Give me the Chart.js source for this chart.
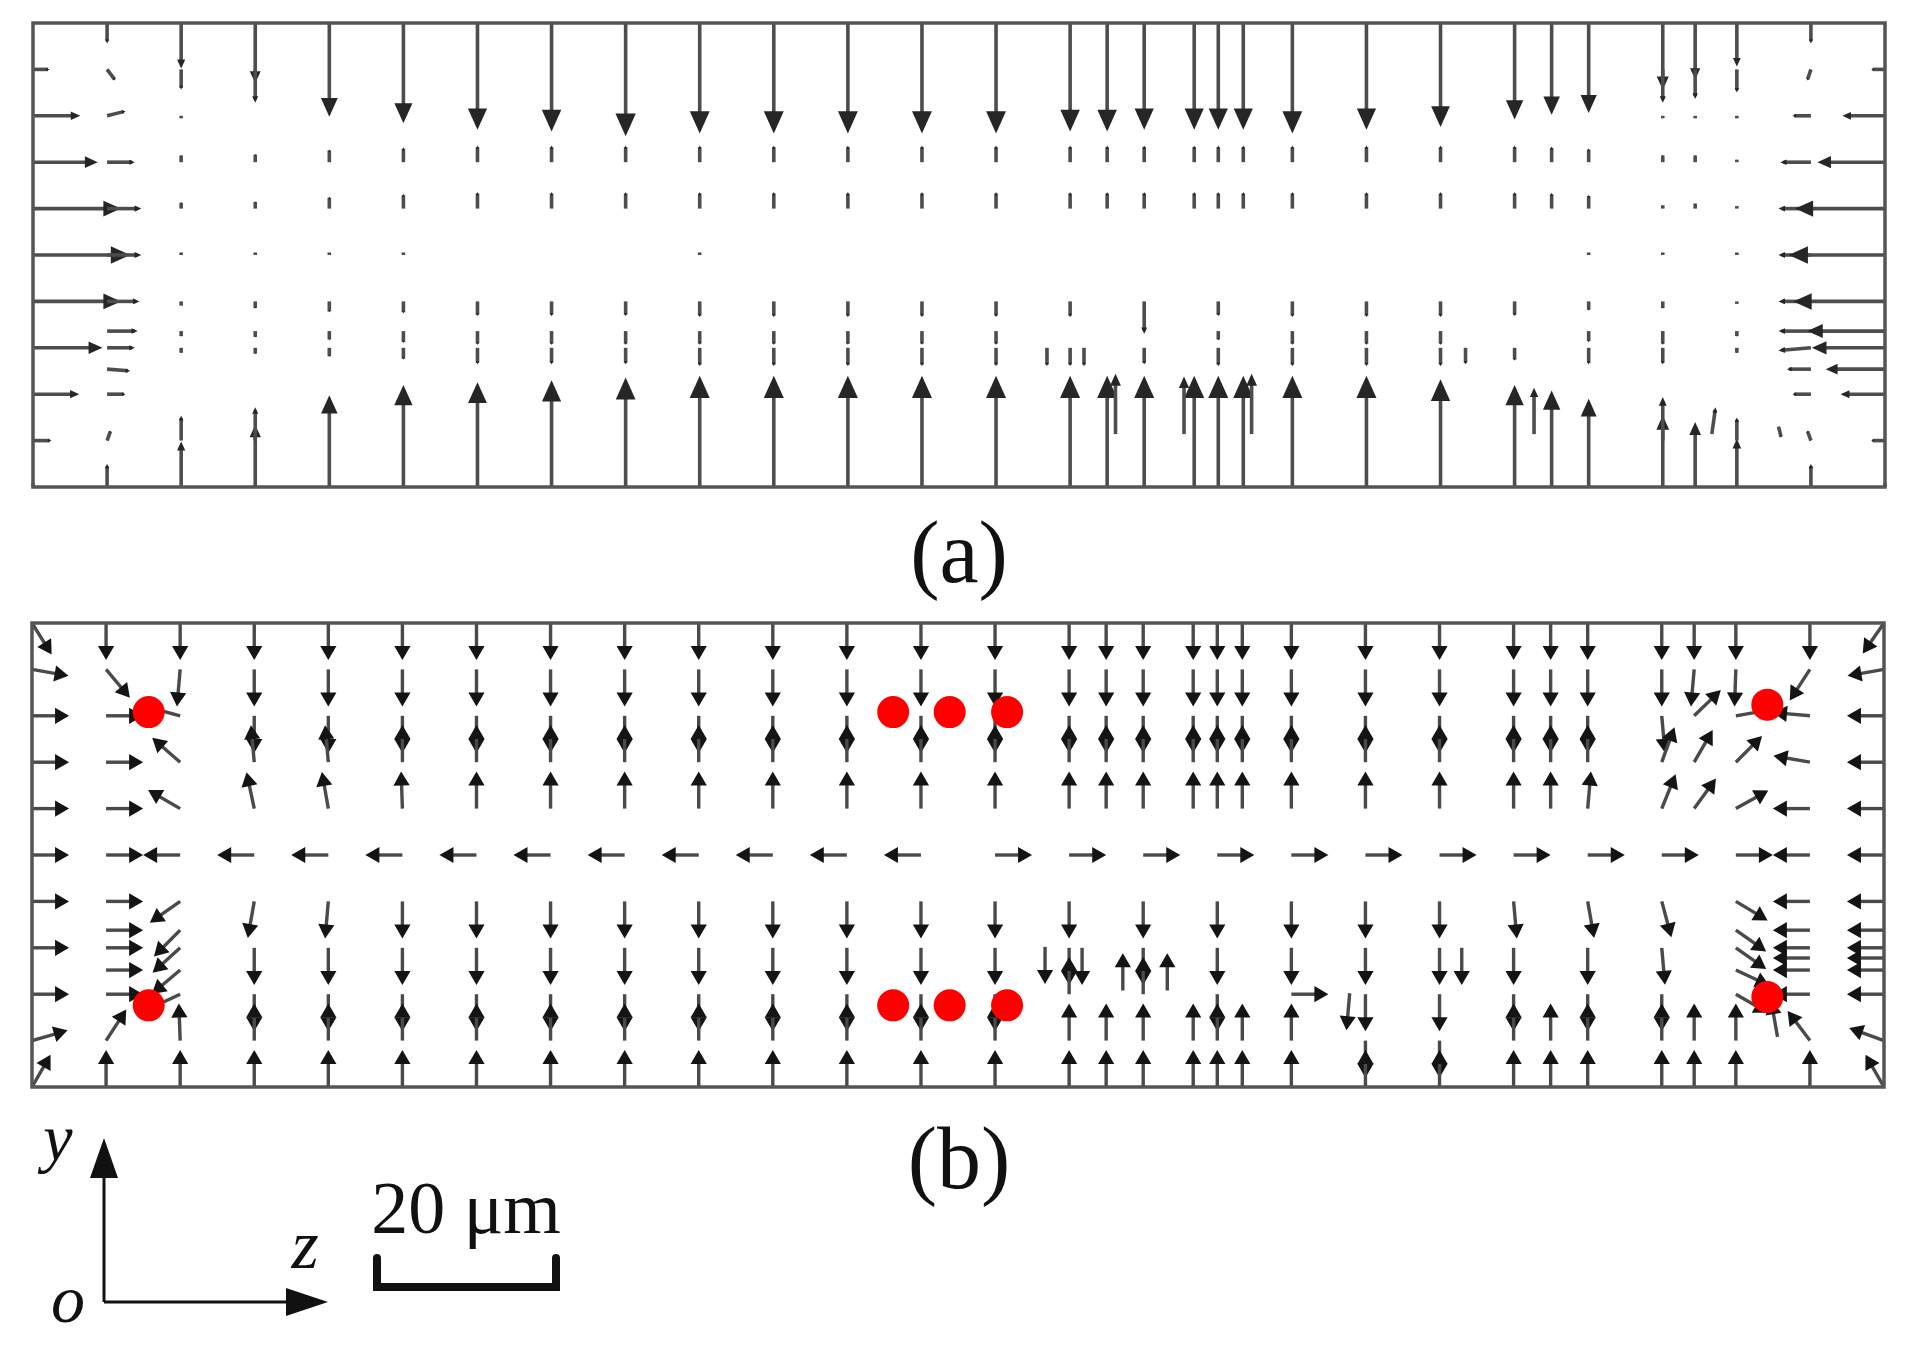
<!DOCTYPE html>
<html>
<head>
<meta charset="utf-8">
<script src="https://cdn.jsdelivr.net/npm/chart.js@4.4.1/dist/chart.umd.min.js"></script>
<style>
  html, body { margin: 0; padding: 0; background: #fff; }
  #page { position: relative; width: 1913px; height: 1352px; overflow: hidden; }
  .panel { position: absolute; left: 0; width: 1913px; }
  #boxA { top: 0; height: 560px; }
  #boxB { top: 560px; height: 560px; }
  #overlay { position: absolute; left: 0; top: 0; }
  #overlay text { font-family: 'Liberation Serif', 'DejaVu Serif', 'Times New Roman', serif; fill: #111; }
  #overlay text.it { font-style: italic; }
</style>
</head>
<body>
<div id="page">
  <div class="panel" id="boxA"><canvas id="chartA" width="1913" height="560"></canvas></div>
  <div class="panel" id="boxB"><canvas id="chartB" width="1913" height="560"></canvas></div>
  <svg id="overlay" width="1913" height="1352" xmlns="http://www.w3.org/2000/svg">
    <text x="959" y="582" font-size="88" text-anchor="middle">(a)</text>
    <text x="959" y="1188" font-size="88" text-anchor="middle">(b)</text>
    <text class="it" x="58" y="1160" font-size="66" text-anchor="middle">y</text>
    <text class="it" x="68" y="1322" font-size="68" text-anchor="middle">o</text>
    <text class="it" x="305" y="1268" font-size="70" text-anchor="middle">z</text>
    <text x="466" y="1233" font-size="74" text-anchor="middle">20 μm</text>
    <g stroke="#111" stroke-width="3" fill="#111">
      <line x1="104" y1="1302" x2="104" y2="1170" />
      <polygon points="104,1138 90,1178 118,1178" stroke="none" />
      <line x1="104" y1="1302" x2="296" y2="1302" />
      <polygon points="328,1302 286,1288 286,1316" stroke="none" />
    </g>
    <path d="M377 1258 L377 1287 L556 1287 L556 1258" fill="none" stroke="#111" stroke-width="8" stroke-linecap="round" />
  </svg>
</div>
<script>
// z positions of the grid columns (µm), shared by both panels
const COLS = [0, 8, 16, 24, 32, 40, 48, 56, 64, 72, 80, 88, 96, 104, 112, 116, 120, 125.4, 128, 130.7,
              136, 144, 152, 160, 164, 168, 176, 179.5, 184, 192, 200];

// ---- panel (a): field vectors, components in µm ----
const A_TOP = [0, 2.2, 4.9, 6.5, 10.1, 10.8, 11.5, 11.7, 12.2, 11.9, 11.9, 11.9, 11.9, 11.9, 11.7, 11.7, 11.5, 11.5, 11.5, 11.5,
               11.9, 11.5, 11.2, 10.4, 9.9, 9.7, 7.2, 6.1, 4.7, 2.2, 0];
const A_BOT = [0.5, 2.5, 4.9, 6.7, 9.9, 11.0, 11.3, 11.5, 11.8, 12.0, 12.0, 12.0, 12.0, 12.0, 12.0, 12.0, 12.0, 12.0, 12.0, 12.0,
               12.0, 12.0, 11.6, 11.0, 10.4, 9.5, 7.7, 7.0, 5.2, 2.5, 0.5];
const A_ROW45 = [0, 0, -2.2, -3.6, 0, 0, 0, 0, 0, 0, 0, 0, 0, 0, 0, 0, 0, 0, 0, 0, 0, 0, 0, 0, 0, 0, -3.6, -3.2, -2.5, 0, 0];
const A_ROW40 = [0, 0, -0.3, 0, 0, 0, 0, 0, 0, 0, 0, 0, 0, 0, 0, 0, 0, 0, 0, 0, 0, 0, 0, 0, 0, 0, -0.3, -0.3, -0.3, 0, 0];
const A_ROW35 = [0, 0, 0.8, 0.9, 1.4, 1.6, 1.8, 1.8, 1.8, 1.8, 1.8, 1.8, 1.8, 1.8, 1.8, 1.8, 1.8, 1.8, 1.8, 1.8,
                 1.8, 1.8, 1.8, 1.8, 1.7, 1.5, 0.8, 0.8, 0.3, 0, 0];
const A_ROW30 = [0, 0, 0.7, 0.8, 1.3, 1.6, 1.8, 1.8, 1.8, 1.8, 1.8, 1.8, 1.8, 1.8, 1.8, 1.8, 1.8, 1.8, 1.8, 1.8,
                 1.8, 1.8, 1.8, 1.8, 1.7, 1.5, 0.4, 0.6, 0.3, 0, 0];
const A_ROW25 = [0, 0, 0.3, 0.3, 0.3, 0.3, 0, 0, 0, 0.3, 0, 0, 0, 0, 0, 0, 0, 0, 0, 0, 0, 0, 0, 0, 0, 0.3, 0.3, 0, 0.3, 0, 0];
const A_ROW20 = [0, 0, -0.5, -0.8, -1.2, -1.3, -1.6, -1.6, -1.6, -1.7, -1.7, -1.7, -1.7, -1.7, -1.7, 0, -3.5, 0, -1.6, 0,
                 -1.7, -1.7, -1.7, -1.6, 0, -1.0, -0.8, 0, -0.3, 0, 0];
const A_ROW17 = [0, 0, -0.6, -0.7, -1.0, -1.3, -1.5, -1.5, -1.5, -1.5, -1.5, -1.5, -1.5, -1.5, 0, 0, 0, 0, -1.0, 0,
                 -1.5, -1.5, -1.5, 0, 0, -1.2, -1.5, 0, -0.6, 0, 0];
const A_ROW15 = [0, 0, -0.6, -0.7, -1.0, -1.3, -1.8, -1.8, -1.8, -2.0, -2.0, -2.0, -2.0, -2.0, -2.0, 0, -1.8, 0, -2.0, 0,
                 -2.0, -2.0, -2.0, -1.4, 0, -1.8, -1.8, 0, -0.6, 0, 0];
const A_ROW5 = [0, 0, 2.7, 3.6, 0, 0, 0, 0, 0, 0, 0, 0, 0, 0, 0, 0, 0, 0, 0, 0, 0, 0, 0, 0, 0, 0, 4.7, 0, 2.5, 0, 0];

// side columns of panel (a), one value per row in A_HROWS
const A_HROWS = [45, 40, 35, 30, 25, 20, 16.8, 15, 12.7, 10, 5];
const A_LEFT_U = [1.8, 5.1, 7.0, 9.5, 10.5, 9.5, 0, 7.5, 0, 5.0, 2.0];
const A_Z8_U = [0.9, 2.0, 3.0, 3.7, 3.7, 3.5, 3.3, 3.0, 2.5, 2.0, 0.4];
const A_Z8_V = [-1.2, 0.5, 0, 0, 0, 0, 0, 0, -0.2, 0, 1.1];
const A_Z192_U = [-0.4, -2.0, -3.3, -3.5, -3.5, -3.5, -3.5, -3.5, -2.6, -2.0, -0.4];
const A_Z192_V = [-1.2, 0, 0, 0, 0, 0, 0, -0.3, 0, 0, 1.1];
const A_RIGHT_U = [-1.5, -4.6, -7.3, -9.7, -10.4, -9.9, -8.4, -7.9, -6.4, -4.8, -1.5];

// off-grid vectors of panel (a): [z, y, u, v]
const A_EXTRA = [
  [116.9, 5.7, 0, 6.5], [124.3, 5.7, 0, 6.2], [131.6, 5.7, 0, 6.5], [162.1, 5.7, 0, 5.0],
  [181.3, 5.7, 0.4, 2.9], [188.5, 6.5, 0.3, -1.2],
  [109.5, 15, 0, -2.0], [113.5, 15, 0, -2.0], [154.7, 15, 0, -1.8]
];

// ---- panel (b): direction field, angle in degrees (0 = +z, 90 = +y), null = no arrow ----
const B_A50 = [-58, -90, -90, -90, -90, -90, -90, -90, -90, -90, -90, -90, -90, -90, -90, -90, -90, -90, -90, -90,
               -90, -90, -90, -90, -90, -90, -90, -90, -90, -90, -125];
const B_A45 = [-10, -50, -95, -90, -90, -90, -90, -90, -90, -90, -90, -90, -90, -90, -90, -90, -90, -90, -90, -90,
               -90, -90, -90, -90, -90, -90, -90, -95, -92, -123, -170];
const B_A40 = [0, 0, 165, -90, -90, -90, -90, -90, -90, -90, -90, -90, -90, -90, -90, -90, -90, -90, -90, -90,
               -90, -90, -90, -90, -90, -90, -85, 44, 10, 175, 180];
const B_A35 = [0, 0, 139, 95, 95, 90, 90, 90, 90, 90, 90, 90, 90, 90, 90, 90, 90, 90, 90, 90,
               90, 90, 90, 90, 90, 90, 70, 60, 45, 170, 180];
const B_A30 = [0, 0, 150, 102, 100, 92, 90, 90, 90, 90, 90, 90, 90, 90, 90, 90, 90, 90, 90, 90,
               90, 90, 90, 90, 90, 85, 68, 54, 29, 180, 180];
const B_A25 = [0, 0, 180, 180, 180, 180, 180, 180, 180, 180, 180, 180, 180, 0, 0, null, 0, null, 0, null,
               0, 0, 0, 0, null, 0, 0, null, 0, 180, 180];
const B_A20 = [0, 0, -145, -100, -95, -90, -90, -90, -90, -90, -90, -90, -90, -90, -90, null, -90, null, -90, null,
               -90, -90, -90, -85, null, -80, -75, null, -31, 180, 180];
const B_A15 = [0, 0, -138, -90, -90, -90, -90, -90, -90, -90, -90, -90, -90, -90, -90, null, -90, null, -90, null,
               -90, -90, -90, -90, null, -90, -85, null, -35, 180, 180];
const B_A10 = [0, 0, -155, -90, -90, -90, -90, -90, -90, -90, -90, -90, -90, -90, 90, null, 90, null, -90, null,
               0, -90, -90, -90, null, -90, -90, null, -30, 180, 180];
const B_A5 = [16, 57, 92, 90, 90, 90, 90, 90, 90, 90, 90, 90, 90, 90, 90, 90, 90, 90, 90, 90,
              90, -90, -90, 90, 90, 90, 90, 90, 90, 127, 160];
const B_A0 = [60, 90, 90, 90, 90, 90, 90, 90, 90, 90, 90, 90, 90, 90, 90, 90, 90, 90, 90, 90,
              90, 90, 90, 90, 90, 90, 90, 90, 90, 90, 120];
const B_LEN = 4;

// off-grid arrows of panel (b): [z, y, angle]
const B_EXTRA = [
  [8, 16.9, 0], [8, 12.6, 0], [16, 16.9, -135], [16, 12.6, -140],
  [184, 16.9, -35], [184, 12.6, -25],
  [192, 16.9, 180], [192, 13.9, 180], [192, 12.6, 180],
  [200, 16.9, 180], [200, 13.9, 180], [200, 12.6, 180],
  [109.4, 15.1, -90], [113.4, 15, -90], [117.8, 10.4, 90], [122.6, 10.4, 90],
  [142.3, 10.1, -95], [154.4, 15, -90], [188.5, 5.4, 100]
];

// trapped particles in panel (b)
const DOT_Z = [12.6, 93.0, 99.1, 105.3, 187.4, 12.6, 93.0, 99.1, 105.3, 187.4];
const DOT_Y = [40.4, 40.4, 40.4, 40.4, 41.2, 8.8, 8.8, 8.8, 8.8, 9.7];

// ---- build arrow lists ----
const arrowsA = [];
COLS.forEach((z, i) => {
  if (A_TOP[i]) arrowsA.push([z, 50, 0, -A_TOP[i]]);
  if (A_BOT[i]) arrowsA.push([z, 0, 0, A_BOT[i]]);
});
[[45, A_ROW45], [40, A_ROW40], [35, A_ROW35], [30, A_ROW30], [25, A_ROW25],
 [20, A_ROW20], [16.8, A_ROW17], [15, A_ROW15], [5, A_ROW5]].forEach(([y, vals]) => {
  vals.forEach((v, i) => { if (v) arrowsA.push([COLS[i], y, 0, v]); });
});
A_HROWS.forEach((y, k) => {
  if (A_LEFT_U[k]) arrowsA.push([0, y, A_LEFT_U[k], 0]);
  arrowsA.push([8, y, A_Z8_U[k], A_Z8_V[k]]);
  arrowsA.push([192, y, A_Z192_U[k], A_Z192_V[k]]);
  if (A_RIGHT_U[k]) arrowsA.push([200, y, A_RIGHT_U[k], 0]);
});
A_EXTRA.forEach(a => arrowsA.push(a));

function polar(z, y, deg) {
  const r = deg * Math.PI / 180;
  return [z, y, B_LEN * Math.cos(r), B_LEN * Math.sin(r)];
}
const arrowsB = [];
[[50, B_A50], [45, B_A45], [40, B_A40], [35, B_A35], [30, B_A30], [25, B_A25],
 [20, B_A20], [15, B_A15], [10, B_A10], [5, B_A5], [0, B_A0]].forEach(([y, angs]) => {
  angs.forEach((a, i) => { if (a !== null) arrowsB.push(polar(COLS[i], y, a)); });
});
B_EXTRA.forEach(([z, y, a]) => arrowsB.push(polar(z, y, a)));

// quiver plugin: draws arrows through the chart's own scales
function quiverPlugin(list, st) {
  return {
    id: 'quiver',
    beforeDatasetsDraw(chart) {
      const ctx = chart.ctx, xs = chart.scales.x, ys = chart.scales.y;
      ctx.save();
      ctx.lineWidth = st.width;
      ctx.strokeStyle = st.color;
      ctx.fillStyle = st.head;
      ctx.lineCap = 'butt';
      list.forEach(([z, y, u, v]) => {
        const x0 = xs.getPixelForValue(z), y0 = ys.getPixelForValue(y);
        const x1 = xs.getPixelForValue(z + u), y1 = ys.getPixelForValue(y + v);
        const dx = x1 - x0, dy = y1 - y0, len = Math.hypot(dx, dy);
        if (len < 0.5) return;
        const ux = dx / len, uy = dy / len;
        const hl = Math.min(st.headMax, len * st.headFrac);
        const hw = hl * st.headWidth;
        const bx = x1 - ux * hl, by = y1 - uy * hl;
        ctx.beginPath();
        ctx.moveTo(x0, y0);
        ctx.lineTo(x1 - ux * hl * 0.5, y1 - uy * hl * 0.5);
        ctx.stroke();
        ctx.beginPath();
        ctx.moveTo(x1, y1);
        ctx.lineTo(bx - uy * hw, by + ux * hw);
        ctx.lineTo(bx + uy * hw, by - ux * hw);
        ctx.closePath();
        ctx.fill();
      });
      ctx.restore();
    },
    afterDraw(chart) {
      const a = chart.chartArea, ctx = chart.ctx;
      ctx.save();
      ctx.lineWidth = 3.5;
      ctx.strokeStyle = '#555';
      ctx.strokeRect(a.left, a.top, a.right - a.left, a.bottom - a.top);
      ctx.restore();
    }
  };
}

function makePanel(id, datasets, list, st, pad) {
  return new Chart(document.getElementById(id), {
    type: 'scatter',
    data: { datasets },
    options: {
      responsive: false, animation: false, devicePixelRatio: 1,
      layout: { padding: pad },
      plugins: { legend: { display: false }, tooltip: { enabled: false } },
      scales: {
        x: { type: 'linear', min: 0, max: 200, display: false },
        y: { type: 'linear', min: 0, max: 50, display: false }
      }
    },
    plugins: [quiverPlugin(list, st)]
  });
}

makePanel('chartA', [{ data: [] }], arrowsA,
  { width: 3.6, color: '#4d4d4d', head: '#262626', headFrac: 0.2, headMax: 24, headWidth: 0.45 },
  { left: 33, top: 23, right: 28, bottom: 73 });

makePanel('chartB', [{
    data: DOT_Z.map((z, i) => ({ x: z, y: DOT_Y[i] })),
    pointRadius: 16, pointHoverRadius: 16, backgroundColor: '#ff0000', borderWidth: 0, clip: false
  }], arrowsB,
  { width: 3.4, color: '#4a4a4a', head: '#141414', headFrac: 0.38, headMax: 14, headWidth: 0.58 },
  { left: 32, top: 63, right: 29, bottom: 33 });
</script>
</body>
</html>
